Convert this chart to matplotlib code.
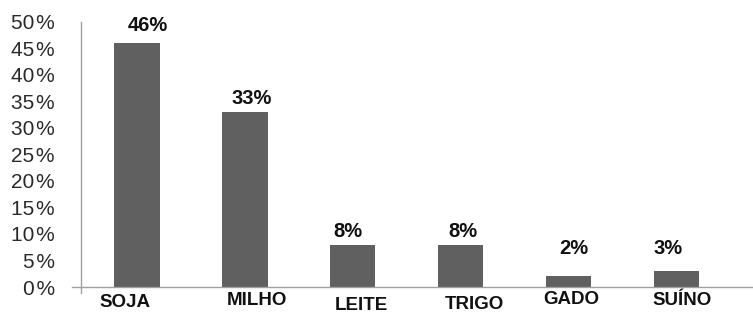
import matplotlib
matplotlib.use("Agg")
import matplotlib.pyplot as plt

categories = ["SOJA", "MILHO", "LEITE", "TRIGO", "GADO", "SUÍNO"]
values = [46, 33, 8, 8, 2, 3]
value_labels = ["46%", "33%", "8%", "8%", "2%", "3%"]
yticks = [0, 5, 10, 15, 20, 25, 30, 35, 40, 45, 50]
ytick_labels = ["0\u200a%", "5\u200a%", "10\u200a%", "15\u200a%", "20\u200a%", "25\u200a%",
                "30\u200a%", "35\u200a%", "40\u200a%", "45\u200a%", "50\u200a%"]

# text placement offsets (pixels) to mimic the original layout
val_dx = [11, 7, -5, 2, 5, -8]
val_dy = [18, 14, 13, 13, 28, 23]
cat_dx = [-12, 12, 9, 14, 3, 6]
cat_dy = [15, 13, 18, 17, 12, 13]

plt.rcParams['font.family'] = ['Liberation Sans', 'DejaVu Sans']

fig = plt.figure(figsize=(7.53, 3.13), dpi=100)
ax = fig.add_axes([0.1076, 0.083, 0.8924, 0.847])

x = list(range(len(categories)))
ax.bar(x, values, width=0.42, color="#606060", zorder=2)

for xi, v, lab, dx, dy in zip(x, values, value_labels, val_dx, val_dy):
    ax.annotate(lab, (xi, v), xytext=(dx, dy), textcoords="offset pixels",
                ha="center", va="center", fontsize=14.5, fontweight="bold",
                color="#111111", annotation_clip=False)

for xi, lab, dx, dy in zip(x, categories, cat_dx, cat_dy):
    ax.annotate(lab, (xi, 0), xytext=(dx, -dy), textcoords="offset pixels",
                ha="center", va="center", fontsize=13.5, fontweight="bold",
                color="#111111", annotation_clip=False)

ax.set_xlim(-0.52, 5.71)
ax.set_ylim(0, 50)
ax.set_yticks(yticks)
ax.set_yticklabels(ytick_labels, fontsize=15, color="#2a2a2a")
ax.set_xticks([])
ax.tick_params(axis="y", length=0, pad=19)

for s in ["top", "right", "bottom", "left"]:
    ax.spines[s].set_visible(False)
ax.plot([-0.52, -0.52], [-1.1, 50], color="#a0a0a0", lw=1, clip_on=False, zorder=3)
ax.plot([-0.60, 5.71], [0, 0], color="#a0a0a0", lw=1, clip_on=False, zorder=3)

fig.savefig("out.png", dpi=100, facecolor="white")
